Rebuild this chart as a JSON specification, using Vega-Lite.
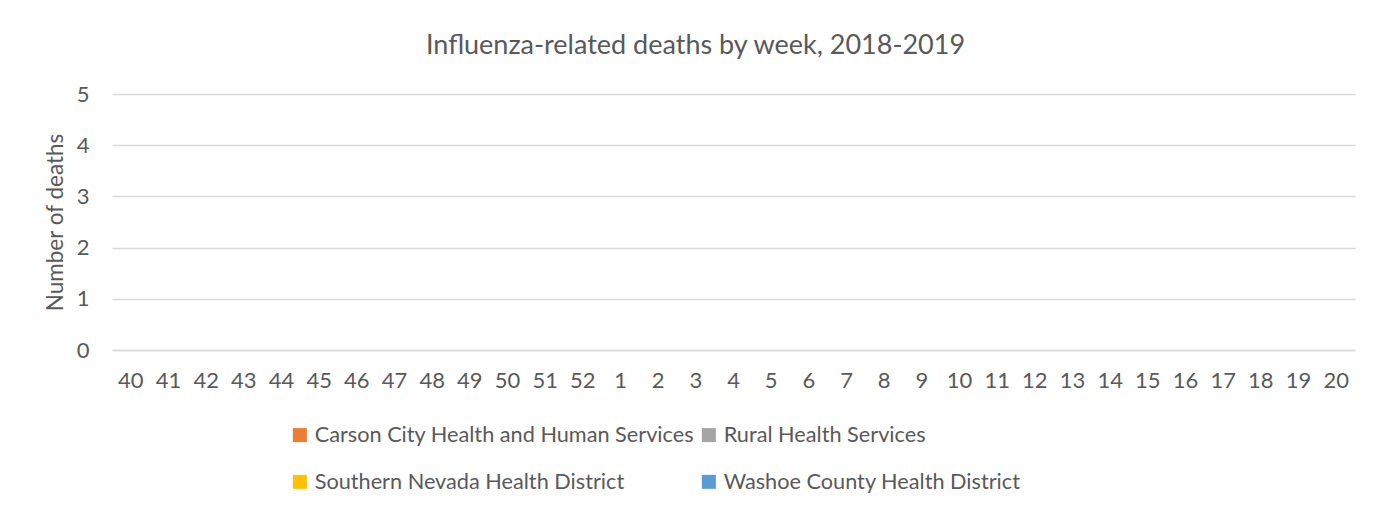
{
  "$schema": "https://vega.github.io/schema/vega-lite/v6.json",
  "width": 1243,
  "height": 256,
  "autosize": {"type": "none"},
  "padding": {"left": 112, "top": 94, "right": 30, "bottom": 164},
  "background": "white",
  "config": {
    "font": "Lato",
    "view": {"stroke": null},
    "axis": {"labelColor": "#595959", "titleColor": "#595959", "labelFont": "Lato", "titleFont": "Lato"}
  },
  "title": {
    "text": "Influenza-related deaths by week, 2018-2019",
    "fontSize": 27,
    "font": "Lato",
    "fontWeight": "normal",
    "color": "#595959",
    "anchor": "middle",
    "dx": -38,
    "offset": 23
  },
  "data": {
    "values": [
      {"week": "40", "region": "Carson City Health and Human Services", "deaths": 0},
      {"week": "40", "region": "Rural Health Services", "deaths": 0},
      {"week": "40", "region": "Southern Nevada Health District", "deaths": 0},
      {"week": "40", "region": "Washoe County Health District", "deaths": 0},
      {"week": "41", "region": "Carson City Health and Human Services", "deaths": 0},
      {"week": "41", "region": "Rural Health Services", "deaths": 0},
      {"week": "41", "region": "Southern Nevada Health District", "deaths": 0},
      {"week": "41", "region": "Washoe County Health District", "deaths": 0},
      {"week": "42", "region": "Carson City Health and Human Services", "deaths": 0},
      {"week": "42", "region": "Rural Health Services", "deaths": 0},
      {"week": "42", "region": "Southern Nevada Health District", "deaths": 0},
      {"week": "42", "region": "Washoe County Health District", "deaths": 0},
      {"week": "43", "region": "Carson City Health and Human Services", "deaths": 0},
      {"week": "43", "region": "Rural Health Services", "deaths": 0},
      {"week": "43", "region": "Southern Nevada Health District", "deaths": 0},
      {"week": "43", "region": "Washoe County Health District", "deaths": 0},
      {"week": "44", "region": "Carson City Health and Human Services", "deaths": 0},
      {"week": "44", "region": "Rural Health Services", "deaths": 0},
      {"week": "44", "region": "Southern Nevada Health District", "deaths": 0},
      {"week": "44", "region": "Washoe County Health District", "deaths": 0},
      {"week": "45", "region": "Carson City Health and Human Services", "deaths": 0},
      {"week": "45", "region": "Rural Health Services", "deaths": 0},
      {"week": "45", "region": "Southern Nevada Health District", "deaths": 0},
      {"week": "45", "region": "Washoe County Health District", "deaths": 0},
      {"week": "46", "region": "Carson City Health and Human Services", "deaths": 0},
      {"week": "46", "region": "Rural Health Services", "deaths": 0},
      {"week": "46", "region": "Southern Nevada Health District", "deaths": 0},
      {"week": "46", "region": "Washoe County Health District", "deaths": 0},
      {"week": "47", "region": "Carson City Health and Human Services", "deaths": 0},
      {"week": "47", "region": "Rural Health Services", "deaths": 0},
      {"week": "47", "region": "Southern Nevada Health District", "deaths": 0},
      {"week": "47", "region": "Washoe County Health District", "deaths": 0}
    ]
  },
  "mark": {"type": "bar"},
  "encoding": {
    "x": {
      "field": "week",
      "type": "ordinal",
      "scale": {
        "domain": ["40","41","42","43","44","45","46","47","48","49","50","51","52","1","2","3","4","5","6","7","8","9","10","11","12","13","14","15","16","17","18","19","20"],
        "paddingInner": 0.4,
        "paddingOuter": 0.2
      },
      "axis": {
        "title": null,
        "labelAngle": 0,
        "labelFontSize": 22,
        "labelPadding": 20,
        "ticks": false,
        "domain": true,
        "domainColor": "#d9d9d9",
        "domainWidth": 1.5,
        "grid": false
      }
    },
    "y": {
      "field": "deaths",
      "type": "quantitative",
      "stack": "zero",
      "scale": {"domain": [0, 5], "nice": false},
      "axis": {
        "title": "Number of deaths",
        "titleFontSize": 22.5,
        "titleFontWeight": "normal",
        "titlePadding": 9,
        "values": [0, 1, 2, 3, 4, 5],
        "format": "d",
        "labelFontSize": 22,
        "labelPadding": 23,
        "ticks": false,
        "domain": false,
        "grid": true,
        "gridColor": "#d9d9d9",
        "gridWidth": 1.5
      }
    },
    "color": {
      "field": "region",
      "type": "nominal",
      "scale": {
        "domain": ["Carson City Health and Human Services", "Rural Health Services", "Southern Nevada Health District", "Washoe County Health District"],
        "range": ["#ED7D31", "#A5A5A5", "#FFC000", "#5B9BD5"]
      },
      "legend": {
        "title": null,
        "orient": "none",
        "legendX": 177,
        "legendY": 330,
        "direction": "horizontal",
        "columns": 2,
        "columnPadding": 3,
        "rowPadding": 24,
        "symbolType": "square",
        "symbolSize": 196,
        "symbolStrokeWidth": 0,
        "symbolOpacity": 1,
        "labelFontSize": 21.7,
        "labelColor": "#595959",
        "labelFont": "Lato",
        "labelOffset": 4,
        "labelLimit": 600
      }
    }
  }
}
